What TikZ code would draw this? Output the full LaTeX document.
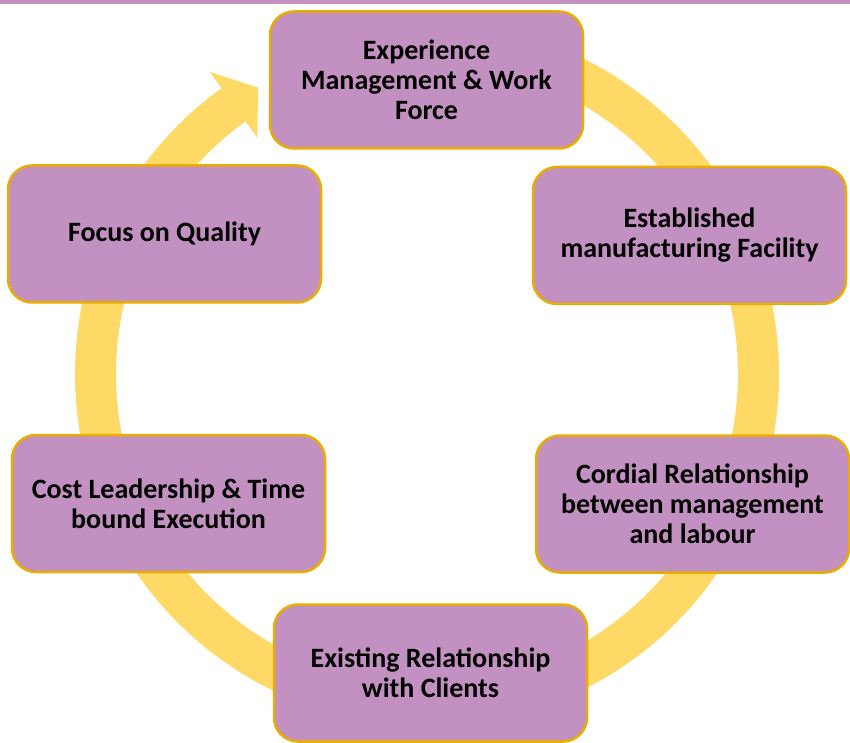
\documentclass[tikz,border=0pt]{standalone}
\usepackage{fontspec}
\setmainfont{Carlito}
\usetikzlibrary{calc}
\definecolor{boxfill}{HTML}{C290C1}
\definecolor{boxline}{HTML}{E8AD00}
\definecolor{ringfill}{HTML}{FFD966}
\begin{document}
\begin{tikzpicture}[x=1pt, y=1pt, line join=round,
    stage/.style={draw=boxline, line width=2.5pt, fill=boxfill, rounded corners=24pt,
      minimum width=313pt, minimum height=137pt, align=center, inner sep=0pt,
      font=\bfseries\fontsize{28}{30}\selectfont}]
  \useasboundingbox (0,0) rectangle (850,742);
  \fill[boxfill] (0,738) rectangle (850,742);
  \coordinate (ctr) at (427,368);
  % ring with arrow head
  \fill[ringfill] ($(ctr)+(95:352)$) arc[start angle=95, end angle=-234.3, radius=352]
    -- ($(ctr)+(125.7:372)$) -- ($(ctr)+(125.7:331)+(35.7:30)$) -- ($(ctr)+(125.7:291)$)
    -- ($(ctr)+(125.7:311)$) arc[start angle=-234.3, end angle=95, radius=311] -- cycle;
  % stages
  \node[stage] (exp) at (426.5,662) {Experience\\Management \& Work\\Force};
  \node[stage] (fac) at (689.5,506.5) {Established\\manufacturing Facility};
  \node[stage] (cord) at (692.5,238) {Cordial Relationship\\between management\\and labour};
  \node[stage] (cli) at (430.5,69) {Existing Relationship\\with Clients};
  \node[stage] (cost) at (168.5,238.5) {Cost Leadership \& Time\\bound Execution};
  \node[stage] (qual) at (164.5,508) {Focus on Quality};
\end{tikzpicture}
\end{document}
